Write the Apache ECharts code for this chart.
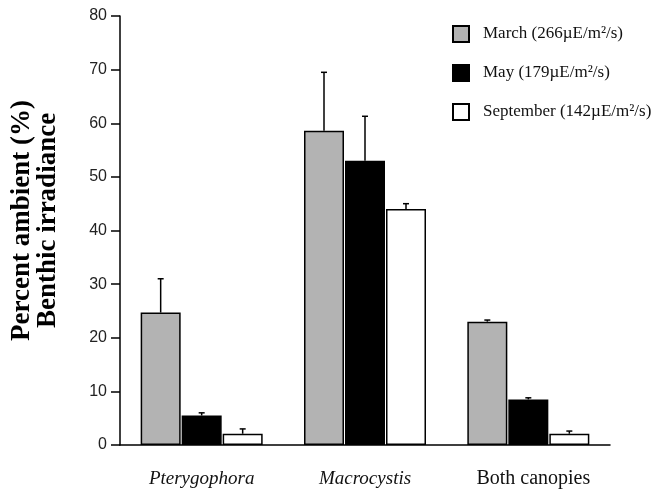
<!DOCTYPE html>
<html><head><meta charset="utf-8">
<script src="https://cdn.jsdelivr.net/npm/echarts@6/dist/echarts.min.js"></script>
<style>html,body{margin:0;padding:0;background:#fff}#c{width:652px;height:490px}</style>
</head><body><div id="c"></div>
<script>
const categories = ['Pterygophora', 'Macrocystis', 'Both canopies'];
const seriesNames = ['March (266µE/m²/s)', 'May (179µE/m²/s)', 'September (142µE/m²/s)'];
const marchValues = [24.7, 58.6, 23.0];
const marchErrors = [31.0, 69.5, 23.3];
const mayValues = [5.5, 53.0, 8.5];
const mayErrors = [6.0, 61.3, 8.8];
const septValues = [2.1, 44.0, 2.1];
const septErrors = [3.0, 45.0, 2.6];
const yTicks = [0, 10, 20, 30, 40, 50, 60, 70, 80];

const colors = ['#b3b3b3', '#000000', '#ffffff'];
const BAR_W = 40, GAP = 1;
const values = [marchValues, mayValues, septValues];
const errors = [marchErrors, mayErrors, septErrors];

const chart = echarts.init(document.getElementById('c'), null, {renderer: 'canvas'});

const barSeries = seriesNames.map((n, i) => ({
  name: n, type: 'bar', data: values[i], barWidth: BAR_W, barGap: (GAP / BAR_W * 100) + '%',
  itemStyle: {color: colors[i], borderColor: '#000', borderWidth: 1.5},
  silent: true
}));

const errSeries = [0, 1, 2].map(si => ({
  type: 'custom', silent: true, z: 1,
  data: categories.map((c, ci) => [ci, values[si][ci], errors[si][ci]]),
  renderItem: function (params, api) {
    const ci = api.value(0);
    const base = api.coord([ci, api.value(1)]);
    const top = api.coord([ci, api.value(2)]);
    const off = (si - 1) * (BAR_W + GAP);
    const x = base[0] + off;
    return {
      type: 'group',
      children: [
        {type: 'line', shape: {x1: x, y1: base[1], x2: x, y2: top[1]}, style: {stroke: '#000', lineWidth: 1.5}},
        {type: 'line', shape: {x1: x - 3, y1: top[1], x2: x + 3, y2: top[1]}, style: {stroke: '#000', lineWidth: 1.5}}
      ]
    };
  }
}));

chart.setOption({
  animation: false,
  backgroundColor: '#fff',
  grid: {left: 120, right: 42, top: 16, bottom: 45, containLabel: false, outerBoundsMode: 'none'},
  legend: {
    data: seriesNames, orient: 'vertical', left: 447, top: 20,
    itemWidth: 16, itemHeight: 16, itemGap: 21, icon: 'rect',
    textStyle: {fontFamily: 'Liberation Serif', fontSize: 17, color: '#111', padding: [0, 0, 0, 9]},
    selectedMode: false
  },
  xAxis: {
    type: 'category', data: categories,
    axisLine: {lineStyle: {color: '#000', width: 1.5}},
    axisTick: {length: 8, lineStyle: {color: '#000', width: 1.5}},
    axisLabel: {
      margin: 24, color: '#111',
      formatter: function (v) { return v === 'Both canopies' ? '{n|' + v + '}' : '{i|' + v + '}'; },
      rich: {
        i: {fontFamily: 'Liberation Serif', fontStyle: 'italic', fontSize: 19, color: '#111'},
        n: {fontFamily: 'Liberation Serif', fontSize: 20, color: '#111', padding: [0, 0, 0, 10]}
      }
    }
  },
  yAxis: {
    type: 'value', min: yTicks[0], max: yTicks[yTicks.length - 1], interval: 10,
    splitLine: {show: false},
    axisLine: {show: true, lineStyle: {color: '#000', width: 1.5}},
    axisTick: {show: true, length: 9, lineStyle: {color: '#000', width: 1.5}},
    axisLabel: {fontFamily: 'Liberation Sans', fontSize: 16, color: '#222', margin: 13},
    name: 'Percent ambient (%)\nBenthic irradiance',
    nameLocation: 'middle', nameRotate: 90, nameGap: 59,
    nameTextStyle: {fontFamily: 'Liberation Serif', fontWeight: 'bold', fontSize: 27, lineHeight: 26, color: '#000', padding: [0, 0, 0, 20]}
  },
  series: [...barSeries, ...errSeries]
});
</script></body></html>
